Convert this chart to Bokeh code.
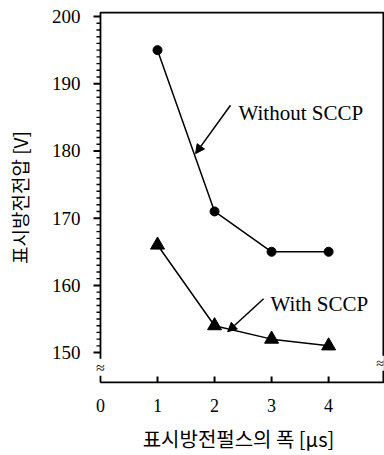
import math
from bokeh.plotting import figure
from bokeh.models import FixedTicker, Range1d, Arrow, NormalHead, Label
from bokeh.embed import file_html
from bokeh.resources import INLINE

# data
pulse_width = [1, 2, 3, 4]
without_sccp = [195, 171, 165, 165]
with_sccp = [166, 154, 152, 151]
x_ticks = [0, 1, 2, 3, 4]
y_ticks = [150, 160, 170, 180, 190, 200]
y_minor = [v for v in range(150, 201) if v % 10 != 0]

SERIF = "Liberation Serif"
KR = "Noto Sans CJK KR"

# box limits (data units) and scale helpers
X0, X1 = 0.0, 4.96
Y0, Y1 = 145.55, 200.6
PX_X = 57.0    # px per x unit
PX_Y = 6.72    # px per y unit

p = figure(width=384, height=455, output_backend="svg", toolbar_location=None,
           x_range=Range1d(-0.14, 4.98), y_range=Range1d(145.4, 200.75),
           min_border_left=92, min_border_right=0, min_border_top=11, min_border_bottom=72)
p.background_fill_color = None
p.border_fill_color = None
p.outline_line_color = None
p.grid.visible = False

# x axis (labels only; ticks drawn below)
xa = p.xaxis[0]
xa.ticker = FixedTicker(ticks=x_ticks)
xa.axis_line_color = None
xa.major_tick_line_color = None
xa.minor_tick_line_color = None
xa.major_tick_in = 0
xa.major_tick_out = 0
xa.major_label_text_font = SERIF
xa.major_label_text_font_size = "18px"
xa.major_label_text_color = "black"
xa.major_label_standoff = 15
xa.axis_label = "표시방전펄스의 폭 [μs]"
xa.axis_label_text_font = KR
xa.axis_label_text_font_size = "20px"
xa.axis_label_text_font_style = "normal"
xa.axis_label_text_color = "black"
xa.axis_label_standoff = 9

# y axis (labels only)
ya = p.yaxis[0]
ya.ticker = FixedTicker(ticks=y_ticks)
ya.axis_line_color = None
ya.major_tick_line_color = None
ya.minor_tick_line_color = None
ya.major_tick_in = 0
ya.major_tick_out = 0
ya.major_label_text_font = SERIF
ya.major_label_text_font_size = "19px"
ya.major_label_text_color = "black"
ya.major_label_standoff = 12
ya.axis_label = "표시방전전압 [V]"
ya.axis_label_text_font = KR
ya.axis_label_text_font_size = "19px"
ya.axis_label_text_font_style = "normal"
ya.axis_label_text_color = "black"
ya.axis_label_standoff = 16

# box
p.line([X0, X1, X1, X0, X0], [Y0, Y0, Y1, Y1, Y0], line_color="black", line_width=1.8)

# ticks as small filled rectangles (screen-sized)
p.rect(x=[X0 - 3.5 / PX_X] * len(y_ticks), y=y_ticks, width=7, height=2,
       width_units="screen", height_units="screen", fill_color="black", line_color=None)
p.rect(x=[X0 - 2 / PX_X] * len(y_minor), y=y_minor, width=4, height=1.4,
       width_units="screen", height_units="screen", fill_color="black", line_color=None)
p.rect(x=x_ticks[1:], y=[Y0 + 3 / PX_Y] * len(x_ticks[1:]), width=2, height=6,
       width_units="screen", height_units="screen", fill_color="black", line_color=None)

# series
p.line(pulse_width, without_sccp, line_color="black", line_width=1.5)
p.scatter(pulse_width, without_sccp, marker="circle", size=9, fill_color="black", line_color="black")
p.line(pulse_width, with_sccp, line_color="black", line_width=1.5)
p.scatter(pulse_width, with_sccp, marker="triangle", size=14, fill_color="black", line_color="black")

# annotations
p.add_layout(Label(x=2.42, y=185.7, text="Without SCCP", text_font=SERIF,
                   text_font_size="21px", text_baseline="alphabetic", text_color="black"))
p.add_layout(Arrow(x_start=2.28, y_start=186.8, x_end=1.667, y_end=179.6, line_width=1.5,
                   end=NormalHead(size=9, fill_color="black", line_color="black")))
p.add_layout(Label(x=2.98, y=157.3, text="With SCCP", text_font=SERIF,
                   text_font_size="21px", text_baseline="alphabetic", text_color="black"))
p.add_layout(Arrow(x_start=2.86, y_start=158.0, x_end=2.23, y_end=153.1, line_width=1.5,
                   end=NormalHead(size=9, fill_color="black", line_color="black")))

# axis breaks
p.add_layout(Label(x=X0, y=147.8, text="≈", text_font=SERIF, text_font_size="16px",
                   text_align="center", text_baseline="middle", text_color="black",
                   background_fill_color="white"))
p.add_layout(Label(x=X1 + 0.5 / PX_X, y=148.4, text="≈", text_font=SERIF, text_font_size="14px",
                   text_align="right", text_baseline="middle", text_color="black",
                   background_fill_color="white"))

open("out.html", "w").write(file_html(p, INLINE))
